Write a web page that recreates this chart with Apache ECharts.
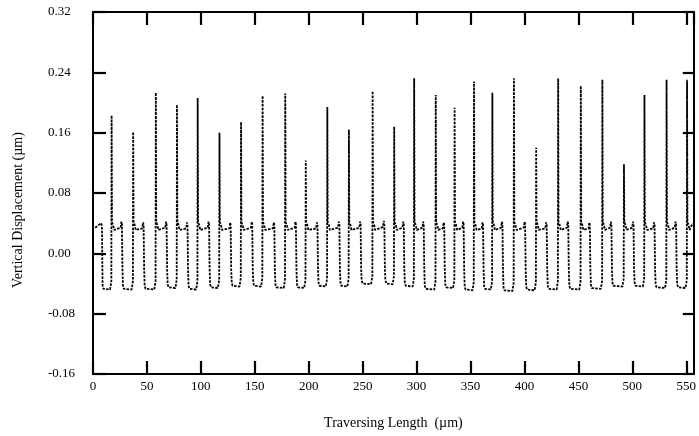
<!DOCTYPE html>
<html>
<head>
<meta charset="utf-8">
<script src="https://cdn.jsdelivr.net/npm/echarts@6/dist/echarts.min.js"></script>
<style>
  html, body { margin: 0; padding: 0; background: #fff; }
  #chart { width: 699px; height: 436px; }
</style>
</head>
<body>
<div id="chart"></div>
<script>
// values (x in µm, y in µm)
let xTicks = [0, 50, 100, 150, 200, 250, 300, 350, 400, 450, 500, 550];
let yTicks = [-0.16, -0.08, 0.00, 0.08, 0.16, 0.24, 0.32];

// rising edge (spike) position and spike peak for each period
let spikeX = [17, 37, 58, 77.6, 96.8, 117, 137, 157, 178, 197, 217, 237, 259, 279,
              297.5, 317.5, 335, 353, 370, 390, 410.6, 431, 452, 472, 492, 511, 531.5, 550.5];
let spikeTop = [0.183, 0.161, 0.213, 0.197, 0.206, 0.160, 0.174, 0.209, 0.212, 0.123, 0.194, 0.164, 0.215, 0.168,
                0.232, 0.210, 0.193, 0.228, 0.213, 0.232, 0.140, 0.232, 0.222, 0.230, 0.118, 0.210, 0.230, 0.230];
// falling edge position after each spike (the last one runs off the plot)
let fallX = [27.2, 47.3, 68.6, 88, 108, 128, 148, 168.5, 188.5, 208.5, 228.8, 248.5, 270.5, 288.5,
             307, 326, 344, 362, 380, 401, 421, 441, 461, 481, 501.5, 521, 541];
// trough level before each spike
let lowLevel = [-0.047, -0.047, -0.047, -0.045, -0.047, -0.045, -0.043, -0.043, -0.045, -0.045, -0.043, -0.043, -0.040, -0.040,
                -0.043, -0.047, -0.045, -0.048, -0.047, -0.049, -0.048, -0.047, -0.047, -0.046, -0.043, -0.043, -0.045, -0.045];
// plateau level between spike and fall
let highLevel = [0.034, 0.033, 0.034, 0.033, 0.034, 0.033, 0.034, 0.033, 0.034, 0.033, 0.034, 0.034, 0.035, 0.034,
                 0.034, 0.033, 0.034, 0.033, 0.034, 0.034, 0.033, 0.034, 0.033, 0.034, 0.034, 0.033, 0.034, 0.036];
let startX = 2, firstFallX = 8.3, endX = 556;

// build the polyline from the read values
function buildTrace() {
    let pts = [];
    pts.push([startX, 0.034]);
    pts.push([firstFallX - 0.8, 0.040]);
    pts.push([firstFallX, 0.036]);
    pts.push([firstFallX + 0.6, lowLevel[0] + 0.004]);
    pts.push([firstFallX + 1.4, lowLevel[0]]);
    for (let i = 0; i < spikeX.length; i++) {
        let s = spikeX[i];
        let low = lowLevel[i];
        let high = highLevel[i];
        pts.push([s - 1.2, low - 0.001]);
        pts.push([s - 0.4, low + 0.006]);
        pts.push([s, low + 0.01]);
        pts.push([s + 0.25, spikeTop[i]]);
        pts.push([s + 0.6, 0.041]);
        pts.push([s + 1.6, 0.038]);
        pts.push([s + 2.6, 0.031]);
        if (i < fallX.length) {
            let f = fallX[i];
            let nextLow = lowLevel[i + 1];
            pts.push([f - 1.6, high]);
            pts.push([f - 0.9, high + 0.008]);
            pts.push([f - 0.4, high + 0.005]);
            pts.push([f + 0.1, -0.02]);
            pts.push([f + 0.6, nextLow + 0.004]);
            pts.push([f + 1.4, nextLow]);
        } else {
            pts.push([endX, high + 0.004]);
        }
    }
    return pts;
}

let fontFamily = '"Liberation Serif", "DejaVu Serif", serif';

let chart = echarts.init(document.getElementById('chart'), null, { renderer: 'canvas' });

let axisLine = { show: true, onZero: false, lineStyle: { color: '#000', width: 2 } };
let tickIn = { show: true, inside: true, length: 13, lineStyle: { color: '#000', width: 2.2 } };

let option = {
    animation: false,
    backgroundColor: '#fff',
    grid: { left: 93, right: 3, top: 12, bottom: 62, containLabel: false },
    xAxis: [{
        type: 'value',
        position: 'bottom',
        min: 0,
        max: 557,
        interval: 50,
        axisLine: axisLine,
        axisTick: tickIn,
        splitLine: { show: false },
        axisLabel: {
            margin: 6,
            color: '#000',
            fontFamily: fontFamily,
            fontSize: 13,
            showMaxLabel: false,
            formatter: function (v) { return xTicks.indexOf(v) >= 0 ? String(v) : ''; }
        },
        name: 'Traversing Length  (µm)',
        nameLocation: 'middle',
        nameGap: 42,
        nameTextStyle: { color: '#000', fontFamily: fontFamily, fontSize: 14 }
    }, {
        type: 'value',
        position: 'top',
        min: 0,
        max: 557,
        interval: 50,
        axisLine: axisLine,
        axisTick: tickIn,
        axisLabel: { show: false },
        splitLine: { show: false }
    }],
    yAxis: [{
        type: 'value',
        position: 'left',
        min: yTicks[0],
        max: yTicks[yTicks.length - 1],
        interval: 0.08,
        axisLine: axisLine,
        axisTick: tickIn,
        splitLine: { show: false },
        axisLabel: {
            align: 'left',
            margin: 45,
            color: '#000',
            fontFamily: fontFamily,
            fontSize: 13,
            formatter: function (v) {
                if (Math.abs(v) < 1e-9) return '0.00';
                return v.toFixed(2);
            }
        },
        name: 'Vertical Displacement (µm)',
        nameLocation: 'middle',
        nameGap: 68,
        nameTextStyle: { color: '#000', fontFamily: fontFamily, fontSize: 14, padding: [0, 34, 0, 0] }
    }, {
        type: 'value',
        position: 'right',
        min: yTicks[0],
        max: yTicks[yTicks.length - 1],
        interval: 0.08,
        axisLine: axisLine,
        axisTick: { show: true, inside: true, length: 11, lineStyle: { color: '#000', width: 2.2 } },
        axisLabel: { show: false },
        splitLine: { show: false }
    }],
    series: [{
        type: 'line',
        data: buildTrace(),
        showSymbol: false,
        symbol: 'none',
        smooth: false,
        clip: true,
        lineStyle: { color: '#000', width: 1.8, type: [2.5, 1.3] }
    }]
};

chart.setOption(option);
</script>
</body>
</html>
